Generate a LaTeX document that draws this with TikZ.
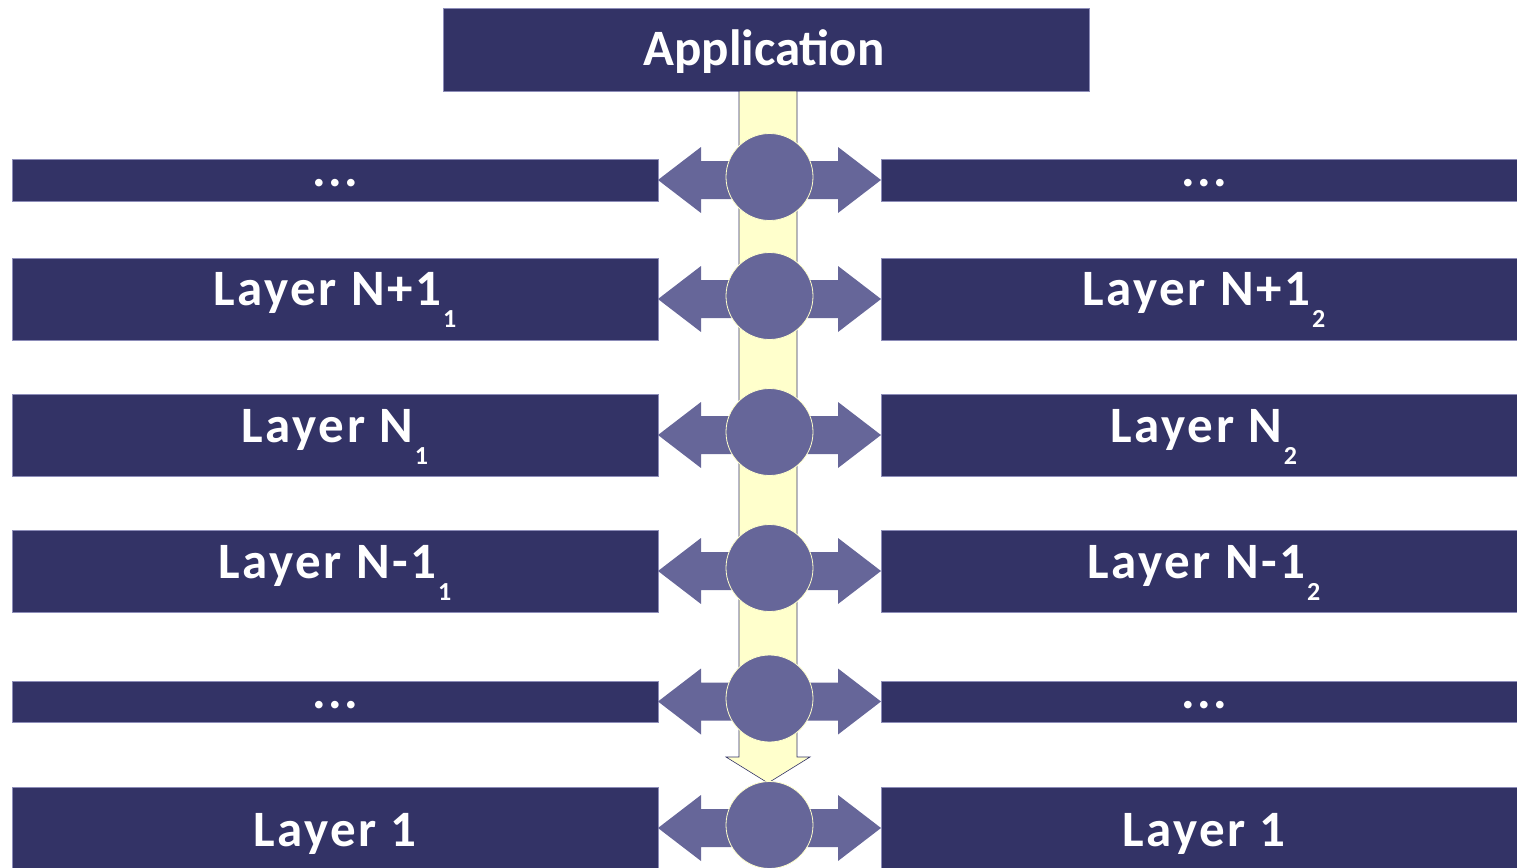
\documentclass[tikz,border=0pt]{standalone}
\usepackage{fontspec}
\setmainfont{Carlito}
\usetikzlibrary{calc}
\definecolor{barnavy}{HTML}{333366}
\definecolor{hubpurple}{HTML}{666699}
\definecolor{flowcream}{HTML}{FFFFCC}
\definecolor{baredge}{HTML}{8C8CB8}
\newcommand{\lsub}[1]{\hspace{2pt}\raisebox{-22pt}{\fontsize{26}{26}\selectfont\bfseries #1}}

\begin{document}
\begin{tikzpicture}[x=1pt, y=-1pt,
  bar/.style={draw=baredge, line width=0.8pt, fill=barnavy, minimum width=646pt, inner sep=0pt, outer sep=0pt},
  lbl/.style={text=white, anchor=base, inner sep=0pt, font=\fontsize{51}{51}\selectfont\bfseries\addfontfeature{LetterSpace=5}},
  hub/.style={circle, fill=hubpurple, draw=flowcream, line width=0.8pt, minimum size=87pt, inner sep=0pt},
  link/.style={fill=hubpurple},
  flow/.style={fill=flowcream, draw=barnavy, line width=0.6pt}]
  \useasboundingbox (0,0) rectangle (1517,867);
  % ---- application on top ----
  \node[bar, minimum height=83pt] (app) at (766,49.5) {};
  \node[lbl, font=\fontsize{51}{51}\selectfont\bfseries] (apptext) at (764,66) {Application};
  % ---- the two stacks: row / centre / height / baseline offset / left / right ----
  \foreach \i/\yc/\h/\off/\lt/\rt in {
    1/180/42/6/{...}/{...},
    2/299/82/6.5/{Layer N+1\lsub{1}}/{Layer N+1\lsub{2}},
    3/435/82/7/{Layer N\lsub{1}}/{Layer N\lsub{2}},
    4/571/82/7/{Layer N-1\lsub{1}}/{Layer N-1\lsub{2}},
    5/701.5/41/6.5/{...}/{...},
    6/828/82/18/{Layer 1}/{Layer 1}} {
    \node[bar, minimum height=\h pt] (lb\i) at (335,\yc) {};
    \node[bar, minimum height=\h pt] (rb\i) at (1204,\yc) {};
    \node[lbl] (lt\i) at ($(lb\i.center)+(0,\off)$) {\lt};
    \node[lbl] (rt\i) at ($(rb\i.center)+(0,\off)$) {\rt};
  }
  % ---- downward flow from the application ----
  \coordinate (flowtip) at ($(app.south)+(2,692)$);
  \draw[flow] ($(app.south)+(-27,0)$) -- ++(0,666) -- ++(-13,0) -- (flowtip)
    -- ++(42,-26) -- ++(-13,0) -- ($(app.south)+(31,0)$) -- cycle;
  % ---- peer links and hubs ----
  \foreach \i in {1,...,6} {
    \fill[link] (lb\i.east) -- ++(43,-33) -- ++(0,14) -- ++(137,0) -- ++(0,-14) -- (rb\i.west)
      -- ++(-43,33) -- ++(0,-14) -- ++(-137,0) -- ++(0,14) -- cycle;
    \node[hub] (hub\i) at ($(lb\i.east)!0.5!(rb\i.west)+(0,-3)$) {};
  }
\end{tikzpicture}
\end{document}
